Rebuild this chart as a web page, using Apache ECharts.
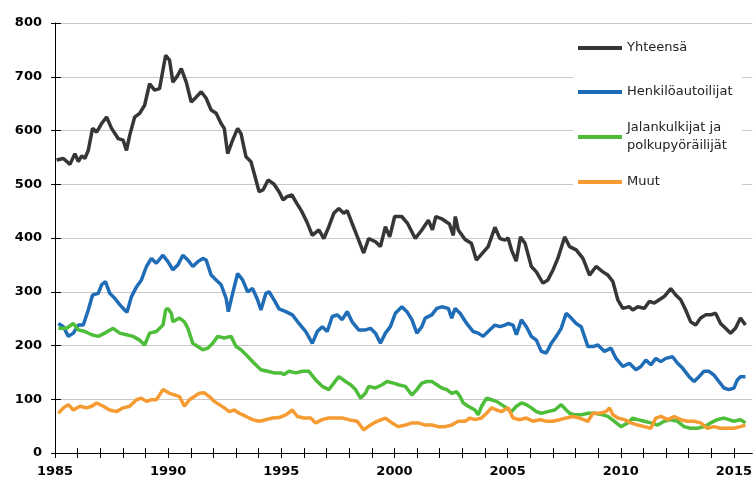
<!DOCTYPE html>
<html><head><meta charset="utf-8">
<script src="https://cdn.jsdelivr.net/npm/echarts@6/dist/echarts.min.js"></script>
<style>html,body{margin:0;padding:0;background:#fff}#c{width:755px;height:481px}</style>
</head><body><div id="c"></div>
<script>
const yearTicks = [1985,1986,1987,1988,1989,1990,1991,1992,1993,1994,1995,1996,1997,1998,1999,2000,2001,2002,2003,2004,2005,2006,2007,2008,2009,2010,2011,2012,2013,2014,2015];
const yearLabels = [1985,1990,1995,2000,2005,2010,2015];
const seriesNames = ['Yhteensä','Henkilöautoilijat','Jalankulkijat ja polkupyöräilijät','Muut'];

const yhteensa = [[1985.07,545],[1985.37,548],[1985.66,537],[1985.88,557],[1986.03,542],[1986.18,553],[1986.32,548],[1986.47,563],[1986.66,604],[1986.84,597],[1987.06,613],[1987.28,625],[1987.50,604],[1987.79,585],[1988.01,582],[1988.16,563],[1988.30,591],[1988.52,625],[1988.74,632],[1988.96,647],[1989.18,687],[1989.40,675],[1989.62,678],[1989.89,740],[1990.06,731],[1990.21,690],[1990.43,703],[1990.58,715],[1990.80,690],[1991.02,653],[1991.24,662],[1991.46,672],[1991.68,660],[1991.90,638],[1992.12,632],[1992.34,613],[1992.48,604],[1992.63,557],[1992.85,582],[1993.07,604],[1993.22,594],[1993.44,551],[1993.66,542],[1993.88,508],[1994.02,486],[1994.20,490],[1994.42,508],[1994.68,500],[1994.90,486],[1995.08,471],[1995.25,477],[1995.47,480],[1995.69,464],[1995.91,449],[1996.13,430],[1996.37,405],[1996.66,415],[1996.88,399],[1997.10,421],[1997.32,446],[1997.54,455],[1997.76,446],[1997.91,451],[1998.13,427],[1998.42,396],[1998.64,372],[1998.86,399],[1999.16,393],[1999.38,384],[1999.60,421],[1999.79,402],[2000.01,440],[2000.32,440],[2000.58,427],[2000.92,399],[2001.21,415],[2001.50,433],[2001.68,415],[2001.83,440],[2002.12,435],[2002.43,426],[2002.60,405],[2002.69,440],[2002.82,415],[2003.12,397],[2003.40,390],[2003.62,359],[2003.85,370],[2004.14,384],[2004.44,420],[2004.66,399],[2004.88,396],[2005.02,400],[2005.17,378],[2005.38,357],[2005.57,402],[2005.77,390],[2006.05,347],[2006.27,337],[2006.56,316],[2006.78,322],[2007.00,340],[2007.22,362],[2007.52,402],[2007.74,384],[2008.03,378],[2008.33,362],[2008.62,331],[2008.91,347],[2009.21,337],[2009.43,331],[2009.65,319],[2009.87,285],[2010.09,269],[2010.38,272],[2010.53,266],[2010.75,272],[2011.04,269],[2011.26,282],[2011.48,279],[2011.70,285],[2011.92,291],[2012.21,306],[2012.43,294],[2012.65,285],[2012.87,266],[2013.09,244],[2013.31,238],[2013.53,251],[2013.75,257],[2013.97,257],[2014.19,260],[2014.41,241],[2014.63,232],[2014.85,223],[2015.07,232],[2015.29,251],[2015.51,238]];

const henkiloautoilijat = [[1985.15,241],[1985.37,235],[1985.59,217],[1985.81,223],[1986.03,238],[1986.25,238],[1986.47,266],[1986.66,294],[1986.91,297],[1987.06,313],[1987.23,319],[1987.42,297],[1987.64,288],[1987.86,276],[1988.08,266],[1988.18,262],[1988.38,291],[1988.60,309],[1988.82,322],[1989.04,347],[1989.26,362],[1989.48,353],[1989.77,368],[1989.99,356],[1990.21,341],[1990.43,350],[1990.65,368],[1990.87,359],[1991.09,347],[1991.31,356],[1991.53,362],[1991.68,359],[1991.90,331],[1992.12,322],[1992.34,313],[1992.56,288],[1992.66,263],[1992.85,297],[1993.07,334],[1993.29,322],[1993.51,300],[1993.73,306],[1993.95,285],[1994.10,266],[1994.32,297],[1994.46,300],[1994.68,285],[1994.90,268],[1995.20,263],[1995.49,257],[1995.78,241],[1996.08,226],[1996.37,204],[1996.59,226],[1996.81,235],[1997.03,226],[1997.25,254],[1997.47,257],[1997.69,248],[1997.91,263],[1998.13,244],[1998.42,229],[1998.72,229],[1998.94,232],[1999.16,223],[1999.38,204],[1999.60,223],[1999.82,235],[2000.04,260],[2000.33,272],[2000.55,263],[2000.77,248],[2000.99,223],[2001.21,235],[2001.36,251],[2001.65,257],[2001.87,269],[2002.09,272],[2002.38,269],[2002.53,251],[2002.68,269],[2002.90,260],[2003.19,241],[2003.48,226],[2003.70,223],[2003.92,217],[2004.14,226],[2004.44,238],[2004.66,235],[2004.88,238],[2005.02,241],[2005.24,238],[2005.39,220],[2005.61,248],[2005.83,235],[2006.05,217],[2006.27,210],[2006.49,189],[2006.71,186],[2006.93,204],[2007.15,217],[2007.37,232],[2007.59,260],[2007.81,251],[2008.03,241],[2008.25,235],[2008.55,198],[2008.77,198],[2008.99,201],[2009.28,189],[2009.57,195],[2009.79,176],[2010.09,161],[2010.38,167],[2010.67,155],[2010.89,161],[2011.11,173],[2011.33,164],[2011.55,176],[2011.77,170],[2011.99,176],[2012.29,179],[2012.51,167],[2012.73,158],[2013.02,142],[2013.24,133],[2013.46,142],[2013.68,152],[2013.90,152],[2014.12,145],[2014.34,133],[2014.56,121],[2014.78,118],[2015.00,121],[2015.15,136],[2015.29,142],[2015.51,142]];

const jalankulkijat = [[1985.15,232],[1985.51,232],[1985.81,241],[1986.03,229],[1986.32,226],[1986.62,220],[1986.91,217],[1987.20,223],[1987.57,232],[1987.86,223],[1988.16,220],[1988.45,217],[1988.74,210],[1988.96,201],[1989.18,223],[1989.48,226],[1989.77,238],[1989.89,266],[1989.99,269],[1990.14,260],[1990.21,244],[1990.50,251],[1990.72,244],[1990.87,232],[1991.09,204],[1991.31,198],[1991.53,192],[1991.75,195],[1991.97,204],[1992.19,217],[1992.48,214],[1992.78,217],[1993.00,198],[1993.22,192],[1993.51,180],[1993.80,167],[1994.10,155],[1994.39,152],[1994.68,149],[1994.98,149],[1995.12,146],[1995.34,152],[1995.64,149],[1995.93,152],[1996.22,152],[1996.52,136],[1996.81,124],[1997.10,118],[1997.32,130],[1997.54,142],[1997.84,133],[1998.06,127],[1998.28,118],[1998.50,102],[1998.72,111],[1998.86,124],[1999.16,121],[1999.45,127],[1999.67,133],[1999.96,130],[2000.18,127],[2000.48,124],[2000.77,108],[2000.99,118],[2001.21,130],[2001.43,133],[2001.65,133],[2001.87,127],[2002.09,121],[2002.31,118],[2002.53,111],[2002.75,114],[2002.90,105],[2003.04,93],[2003.26,87],[2003.56,80],[2003.70,71],[2003.85,87],[2004.07,102],[2004.29,99],[2004.51,96],[2004.73,90],[2004.95,84],[2005.17,77],[2005.39,87],[2005.61,93],[2005.83,90],[2006.05,84],[2006.27,77],[2006.49,74],[2006.78,77],[2007.08,80],[2007.37,90],[2007.59,80],[2007.74,74],[2007.96,71],[2008.25,71],[2008.55,74],[2008.84,74],[2009.21,71],[2009.43,68],[2009.72,59],[2010.01,49],[2010.31,56],[2010.53,65],[2010.75,62],[2011.04,59],[2011.33,56],[2011.63,52],[2011.92,59],[2012.21,62],[2012.51,59],[2012.80,49],[2013.09,46],[2013.39,46],[2013.68,49],[2013.97,56],[2014.27,62],[2014.56,65],[2014.78,62],[2015.00,59],[2015.29,62],[2015.51,56]];

const muut = [[1985.15,74],[1985.37,84],[1985.59,90],[1985.81,80],[1986.10,87],[1986.40,84],[1986.62,87],[1986.84,93],[1987.13,87],[1987.42,80],[1987.72,77],[1988.01,84],[1988.30,87],[1988.60,99],[1988.82,102],[1989.04,96],[1989.26,99],[1989.48,99],[1989.77,118],[1990.06,111],[1990.28,108],[1990.50,105],[1990.72,87],[1990.94,99],[1991.16,105],[1991.38,111],[1991.60,112],[1991.82,105],[1992.04,96],[1992.26,90],[1992.48,84],[1992.70,77],[1992.92,80],[1993.14,74],[1993.44,68],[1993.73,62],[1994.02,59],[1994.32,62],[1994.61,65],[1994.90,66],[1995.20,71],[1995.49,80],[1995.71,68],[1996.00,65],[1996.30,65],[1996.52,56],[1996.81,62],[1997.10,65],[1997.40,65],[1997.69,65],[1997.98,62],[1998.35,59],[1998.64,43],[1998.94,52],[1999.23,59],[1999.60,65],[1999.89,56],[2000.18,49],[2000.48,52],[2000.77,56],[2001.06,56],[2001.36,52],[2001.65,52],[2001.94,49],[2002.24,49],[2002.53,52],[2002.82,59],[2003.12,59],[2003.34,65],[2003.56,62],[2003.85,65],[2004.07,74],[2004.29,84],[2004.51,80],[2004.73,77],[2005.02,84],[2005.24,65],[2005.54,62],[2005.83,65],[2006.12,59],[2006.42,62],[2006.71,59],[2007.00,59],[2007.30,62],[2007.59,65],[2007.89,68],[2008.18,65],[2008.55,59],[2008.77,74],[2009.06,74],[2009.35,77],[2009.50,84],[2009.65,71],[2009.87,65],[2010.16,62],[2010.45,56],[2010.75,52],[2011.04,49],[2011.33,46],[2011.55,65],[2011.77,68],[2012.07,62],[2012.36,68],[2012.65,62],[2012.95,59],[2013.24,59],[2013.53,56],[2013.83,46],[2014.12,49],[2014.41,46],[2014.71,46],[2015.00,46],[2015.29,49],[2015.51,52]];

const colors = ['#363636','#1f6cb7','#4dbd3a','#f59b32'];
const seriesData = [yhteensa, henkiloautoilijat, jalankulkijat, muut];

const chart = echarts.init(document.getElementById('c'), null, {renderer:'canvas'});
const axisFont = {fontFamily:'DejaVu Sans', fontWeight:'bold', fontSize:13, color:'#000'};
const legendTops = [40, 84, 110, 174];
const legends = seriesNames.map((n,i)=>{
  const two = i===2;
  return {
    show:true, orient:'vertical', left:578, top:legendTops[i], padding:0,
    itemWidth:44, itemHeight:4, icon:'rect', data:[n],
    formatter: two ? 'Jalankulkijat ja\npolkupyöräilijät' : '{name}',
    textStyle: Object.assign({fontFamily:'DejaVu Sans', fontSize:13, color:'#222', lineHeight: two?18:16}, two?{padding:[18,0,0,0]}:{})
  };
});
const option = {
  animation:false,
  backgroundColor:'#fff',
  grid:{left:55, right:0, top:23, bottom:28, containLabel:false},
  graphic:[{type:'rect', left:573, top:27, shape:{width:169, height:170}, style:{fill:'#fff'}, z:1}],
  legend: legends,
  xAxis:[{
    type:'value', min:1985, max:2015.81,
    axisLine:{show:true, lineStyle:{color:'#000', width:1}},
    axisTick:{show:true, length:5, customValues:yearTicks, lineStyle:{color:'#000'}},
    axisLabel:Object.assign({show:true, margin:12, customValues:yearLabels, formatter:v=>String(v)}, axisFont),
    splitLine:{show:false}
  },{
    type:'value', min:1985, max:2015.81, position:'bottom',
    axisLine:{show:false},
    axisTick:{show:true, inside:true, length:5, customValues:yearTicks, lineStyle:{color:'#000'}},
    axisLabel:{show:false}, splitLine:{show:false}
  }],
  yAxis:[{
    type:'value', min:0, max:800, interval:100,
    axisLine:{show:true, lineStyle:{color:'#000', width:1}},
    axisTick:{show:true, length:4, lineStyle:{color:'#000'}},
    axisLabel:Object.assign({margin:13}, axisFont),
    splitLine:{show:true, lineStyle:{color:'#c8c8c8', width:1}}
  },{
    type:'value', min:0, max:800, interval:100, position:'left',
    axisLine:{show:false},
    axisTick:{show:true, inside:true, length:6, lineStyle:{color:'#000'}},
    axisLabel:{show:false}, splitLine:{show:false}
  }],
  series: seriesNames.map((n,i)=>({
    name:n, type:'line', data:seriesData[i], xAxisIndex:0, yAxisIndex:0,
    showSymbol:false, symbol:'none', color:colors[i],
    lineStyle:{color:colors[i], width:3.5}, z:2+i
  }))
};
chart.setOption(option);
</script></body></html>
